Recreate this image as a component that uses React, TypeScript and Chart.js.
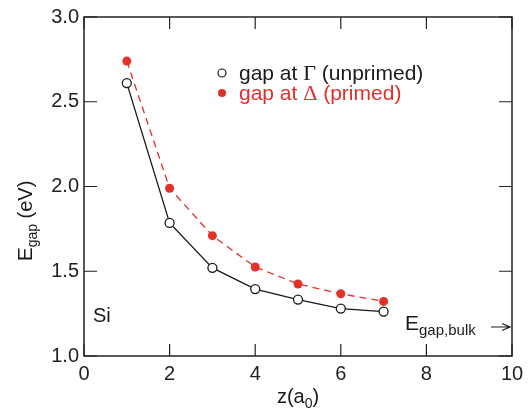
import React, { useEffect, useRef } from "react";
import { Chart, registerables } from "chart.js";

Chart.register(...registerables);

const zValues = [1, 2, 3, 4, 5, 6, 7];
const gapGamma = [2.61, 1.785, 1.52, 1.395, 1.333, 1.28, 1.262];
const gapDelta = [2.74, 1.99, 1.71, 1.525, 1.425, 1.367, 1.322];
const xTicks = [0, 2, 4, 6, 8, 10];
const yTicks = [1.0, 1.5, 2.0, 2.5, 3.0];
const legendLabels = [
  ["gap at ", "\u0393", " (unprimed)"],
  ["gap at ", "\u0394", " (primed)"],
];

const RED = "#e2302b";
const BLACK = "#1a1a1a";
const SANS = '"Liberation Sans", Arial, sans-serif';
const SERIF = '"Liberation Serif", "Times New Roman", serif';

function drawSegments(ctx: CanvasRenderingContext2D, x: number, y: number, segs: { t: string; font: string; dy?: number }[]) {
  let cx = x;
  for (const s of segs) {
    ctx.font = s.font;
    ctx.fillText(s.t, cx, y + (s.dy || 0));
    cx += ctx.measureText(s.t).width;
  }
  return cx;
}
function segWidth(ctx: CanvasRenderingContext2D, segs: { t: string; font: string }[]) {
  let w = 0;
  for (const s of segs) {
    ctx.font = s.font;
    w += ctx.measureText(s.t).width;
  }
  return w;
}

const framePlugin = {
  id: "frame",
  afterDraw(chart: any) {
    const ctx: CanvasRenderingContext2D = chart.ctx;
    const { left, right, top, bottom } = chart.chartArea;
    const xs = chart.scales.x;
    const ys = chart.scales.y;
    ctx.save();
    ctx.strokeStyle = "#222";
    ctx.lineWidth = 1.5;
    ctx.strokeRect(left, top, right - left, bottom - top);
    ctx.lineWidth = 1.2;
    ctx.beginPath();
    for (const v of xTicks) {
      const px = xs.getPixelForValue(v);
      ctx.moveTo(px, bottom);
      ctx.lineTo(px, bottom - 12);
      ctx.moveTo(px, top);
      ctx.lineTo(px, top + 12);
    }
    for (const v of yTicks) {
      const py = ys.getPixelForValue(v);
      ctx.moveTo(left, py);
      ctx.lineTo(left + 13, py);
      ctx.moveTo(right, py);
      ctx.lineTo(right - 13, py);
    }
    ctx.stroke();

    // legend
    ctx.textBaseline = "alphabetic";
    ctx.textAlign = "left";
    const rows = [
      { y: 73, color: BLACK, filled: false },
      { y: 93, color: RED, filled: true },
    ];
    rows.forEach((r, i) => {
      ctx.beginPath();
      ctx.arc(222, r.y, 4, 0, Math.PI * 2);
      if (r.filled) {
        ctx.fillStyle = r.color;
        ctx.fill();
      } else {
        ctx.fillStyle = "#fff";
        ctx.fill();
        ctx.strokeStyle = r.color;
        ctx.lineWidth = 1.2;
        ctx.stroke();
      }
      ctx.fillStyle = r.color;
      const [a, g, b] = legendLabels[i];
      drawSegments(ctx, 239, r.y + 7, [
        { t: a, font: `21px ${SANS}` },
        { t: g, font: `22px ${SERIF}` },
        { t: b, font: `21px ${SANS}` },
      ]);
    });

    // Si
    ctx.fillStyle = BLACK;
    ctx.font = `20px ${SANS}`;
    ctx.fillText("Si", 93, 322);

    // E_gap,bulk
    drawSegments(ctx, 405, 330, [
      { t: "E", font: `21px ${SANS}` },
      { t: "gap,bulk", font: `15px ${SANS}`, dy: 5 },
    ]);
    ctx.strokeStyle = BLACK;
    ctx.lineWidth = 1.2;
    ctx.beginPath();
    ctx.moveTo(491, 327);
    ctx.lineTo(510, 327);
    ctx.moveTo(502, 323.5);
    ctx.lineTo(510, 327);
    ctx.lineTo(502, 330.5);
    ctx.stroke();

    // x title
    const xt = [
      { t: "z(a", font: `20px ${SANS}` },
      { t: "0", font: `14px ${SANS}`, dy: 5 },
      { t: ")", font: `20px ${SANS}` },
    ];
    const xw = segWidth(ctx, xt);
    drawSegments(ctx, 298 - xw / 2, 403, xt);

    // y title
    const yt = [
      { t: "E", font: `21px ${SANS}` },
      { t: "gap", font: `14px ${SANS}`, dy: 5 },
      { t: " (eV)", font: `20px ${SANS}` },
    ];
    const yw = segWidth(ctx, yt);
    ctx.translate(32, 221);
    ctx.rotate(-Math.PI / 2);
    drawSegments(ctx, -yw / 2, 0, yt);
    ctx.restore();
  },
};

export default function App() {
  const ref = useRef<HTMLCanvasElement>(null);
  useEffect(() => {
    if (!ref.current) return;
    const chart = new Chart(ref.current, {
      type: "line",
      data: {
        datasets: [
          {
            label: "gap at \u0393 (unprimed)",
            data: zValues.map((z, i) => ({ x: z, y: gapGamma[i] })),
            borderColor: BLACK,
            borderWidth: 1.3,
            pointRadius: 4.5,
            pointBackgroundColor: "#fff",
            pointBorderColor: BLACK,
            pointBorderWidth: 1.3,
            tension: 0,
            fill: false,
          },
          {
            label: "gap at \u0394 (primed)",
            data: zValues.map((z, i) => ({ x: z, y: gapDelta[i] })),
            borderColor: RED,
            borderWidth: 1.3,
            borderDash: [7, 5],
            pointRadius: 4.5,
            pointBackgroundColor: RED,
            pointBorderColor: RED,
            pointBorderWidth: 0,
            tension: 0,
            fill: false,
          },
        ],
      },
      options: {
        animation: false,
        responsive: false,
        maintainAspectRatio: false,
        layout: { padding: { left: 0, right: 20, top: 14, bottom: 0 } },
        plugins: { legend: { display: false }, tooltip: { enabled: false } },
        scales: {
          x: {
            type: "linear",
            min: 0,
            max: 10,
            grid: { display: false, drawTicks: false },
            border: { display: false },
            afterFit: (s: any) => { s.height = 64; },
            ticks: {
              stepSize: 2,
              padding: 6,
              color: "#222",
              font: { family: SANS, size: 20 },
              maxRotation: 0,
            },
          },
          y: {
            type: "linear",
            min: 1,
            max: 3,
            grid: { display: false, drawTicks: false },
            border: { display: false },
            afterFit: (s: any) => { s.width = 84; },
            ticks: {
              stepSize: 0.5,
              padding: 5,
              color: "#222",
              font: { family: SANS, size: 20 },
              callback: (v: any) => Number(v).toFixed(1),
            },
          },
        },
      },
      plugins: [framePlugin],
    });
    return () => chart.destroy();
  }, []);
  return (
    <div style={{ position: "fixed", left: 0, top: 0, width: 532, height: 420, background: "#fff" }}>
      <canvas ref={ref} width={532} height={420} style={{ width: 532, height: 420 }} />
    </div>
  );
}
